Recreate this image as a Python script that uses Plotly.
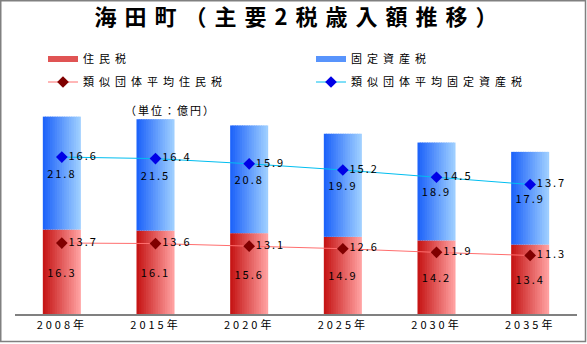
import plotly.graph_objects as go

# ---- data ----
years = ["2008年", "2015年", "2020年", "2025年", "2030年", "2035年"]
juminzei = [16.3, 16.1, 15.6, 14.9, 14.2, 13.4]          # 住民税
koteishisanzei = [21.8, 21.5, 20.8, 19.9, 18.9, 17.9]    # 固定資産税
ruiji_juminzei = [13.7, 13.6, 13.1, 12.6, 11.9, 11.3]    # 類似団体平均住民税
ruiji_kotei = [16.6, 16.4, 15.9, 15.2, 14.5, 13.7]       # 類似団体平均固定資産税

FONT = "Noto Sans CJK JP, Noto Sans, sans-serif"


def sp(txt, ls):
    return f'<span style="letter-spacing:{ls}px">{txt}</span>'


def lerp(c1, c2, t):
    return "rgb({},{},{})".format(*[round(a + (b - a) * t) for a, b in zip(c1, c2)])


RED_L, RED_R = (198, 22, 22), (255, 160, 160)
BLUE_L, BLUE_R = (30, 100, 250), (158, 206, 255)

fig = go.Figure()

BW = 0.406
N = 16
sw = BW / N
red_base = [0] * len(years)

for i in range(N):
    t = i / (N - 1)
    off = -BW / 2 + i * sw
    wid = sw * (1.35 if i < N - 1 else 1.0)
    fig.add_trace(go.Bar(x=years, y=juminzei, base=red_base, offset=off, width=wid,
                         marker=dict(color=lerp(RED_L, RED_R, t), line=dict(width=0)),
                         showlegend=False, hoverinfo="skip"))
    fig.add_trace(go.Bar(x=years, y=koteishisanzei, base=juminzei, offset=off, width=wid,
                         marker=dict(color=lerp(BLUE_L, BLUE_R, t), line=dict(width=0)),
                         showlegend=False, hoverinfo="skip"))

# value labels on bars
for vals, base in ((juminzei, red_base), (koteishisanzei, juminzei)):
    fig.add_trace(go.Bar(x=years, y=vals, base=base, offset=-BW / 2, width=BW,
                         marker=dict(color="rgba(0,0,0,0)", line=dict(width=0)),
                         text=[sp(f"{v:.1f}", 2) for v in vals], textposition="inside",
                         insidetextanchor="middle", constraintext="none",
                         textfont=dict(color="black", size=11, family=FONT),
                         showlegend=False, hoverinfo="skip"))

# stacked average lines
blue_stack = [a + b for a, b in zip(ruiji_juminzei, ruiji_kotei)]
RED_LINE, RED_MK = "rgb(255,110,110)", "rgb(128,0,0)"
BLUE_LINE, BLUE_MK = "rgb(0,190,240)", "rgb(0,0,230)"
fig.add_trace(go.Scatter(x=years, y=ruiji_juminzei, mode="lines+markers+text",
                         line=dict(color=RED_LINE, width=1),
                         marker=dict(symbol="diamond", size=9, color=RED_MK),
                         text=[sp(f"{v:.1f}", 2) for v in ruiji_juminzei],
                         textposition="middle right",
                         textfont=dict(color="black", size=11, family=FONT),
                         showlegend=False, hoverinfo="skip"))
fig.add_trace(go.Scatter(x=years, y=blue_stack, mode="lines+markers+text",
                         line=dict(color=BLUE_LINE, width=1),
                         marker=dict(symbol="diamond", size=9, color=BLUE_MK),
                         text=[sp(f"{v:.1f}", 2) for v in ruiji_kotei],
                         textposition="middle right",
                         textfont=dict(color="black", size=11, family=FONT),
                         showlegend=False, hoverinfo="skip"))

# legend entries (one legend each, placed like the reference)
fig.add_trace(go.Scatter(x=[None], y=[None], mode="lines", name=sp("住民税", 5),
                         line=dict(color=lerp(RED_L, RED_R, 0.45), width=6), legend="legend"))
fig.add_trace(go.Scatter(x=[None], y=[None], mode="lines", name=sp("固定資産税", 5),
                         line=dict(color=lerp(BLUE_L, BLUE_R, 0.45), width=6), legend="legend2"))
fig.add_trace(go.Scatter(x=[None], y=[None], mode="lines+markers", name=sp("類似団体平均住民税", 5),
                         line=dict(color=RED_LINE, width=1),
                         marker=dict(symbol="diamond", size=9, color=RED_MK),
                         legend="legend3"))
fig.add_trace(go.Scatter(x=[None], y=[None], mode="lines+markers", name=sp("類似団体平均固定資産税", 5),
                         line=dict(color=BLUE_LINE, width=1),
                         marker=dict(symbol="diamond", size=9, color=BLUE_MK),
                         legend="legend4"))

L, R, T, B = 15, 10, 107, 30
PW, PH = 587 - L - R, 344 - T - B


def px_x(p):
    return (p - L) / PW


def px_y(p):
    return (344 - B - p) / PH


def leg(xp, yp):
    return dict(orientation="v", xanchor="left", yanchor="middle", x=px_x(xp), y=px_y(yp),
                font=dict(size=11, family=FONT, color="black"),
                bgcolor="rgba(0,0,0,0)")


fig.update_layout(
    width=587, height=344,
    margin=dict(l=L, r=R, t=T, b=B),
    paper_bgcolor="white", plot_bgcolor="white",
    barmode="overlay",
    font=dict(family=FONT, color="black"),
    title=dict(text=sp("<b>海田町（主要2税歳入額推移）</b>", 8), x=300 / 587, xanchor="center",
               y=1 - 17 / 344, yanchor="middle", yref="container",
               font=dict(size=22, family=FONT, color="black")),
    legend=leg(43, 59),
    legend2=leg(311, 59),
    legend3=leg(43, 82),
    legend4=leg(311, 82),
    xaxis=dict(type="category", range=[-0.5, 5.5], showline=True, linecolor="#808080",
               linewidth=1.5, ticks="", showgrid=False, zeroline=False,
               tickvals=years, ticktext=[sp(y, 3) for y in years],
               tickfont=dict(size=11, family=FONT, color="black")),
    yaxis=dict(visible=False, range=[0, PH / 5.18], showgrid=False, zeroline=False),
    annotations=[dict(text=sp("（単位：億円）", 2), x=px_x(170), y=px_y(110), xref="paper",
                      yref="paper", xanchor="center", yanchor="middle", showarrow=False,
                      font=dict(size=11, family=FONT, color="black"))],
    shapes=[dict(type="rect", xref="paper", yref="paper",
                 x0=px_x(0.75), x1=px_x(585.5), y0=px_y(341.5), y1=px_y(0.75),
                 line=dict(color="#808080", width=1.5), fillcolor="rgba(0,0,0,0)", layer="above")],
)

fig.write_html("out.html")
